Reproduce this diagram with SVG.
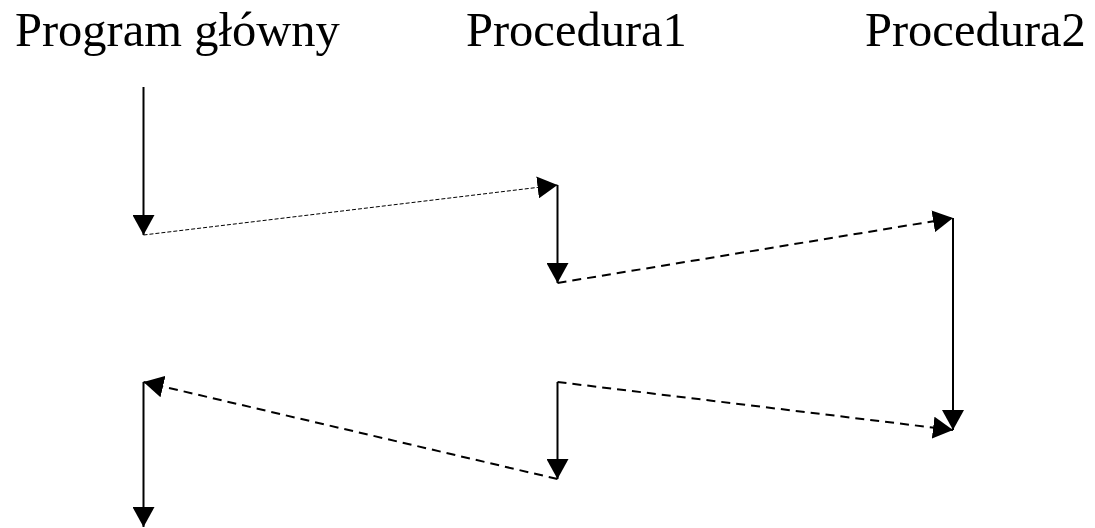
<svg xmlns="http://www.w3.org/2000/svg" width="1095" height="528" viewBox="0 0 1095 528">
  <defs>
    <marker id="arrow" viewBox="0 0 20 22" refX="20" refY="11" markerWidth="20" markerHeight="22" markerUnits="userSpaceOnUse" orient="auto">
      <path d="M0,0 L20,11 L0,22 z" fill="#000"/>
    </marker>
    <style>
      .label { font-family: "Liberation Serif", "Times New Roman", serif; font-size: 48.5px; fill: #000; }
      .solid { stroke: #000; stroke-width: 2; fill: none; }
      .dash { stroke: #000; stroke-width: 2; fill: none; stroke-dasharray: 9 6; }
      .fine { stroke: #000; stroke-width: 1; fill: none; stroke-dasharray: 4 2; }
    </style>
  </defs>
  <rect width="1095" height="528" fill="#fff"/>
  <g id="node-main">
    <text class="label" x="15" y="46">Program główny</text>
  </g>
  <g id="node-proc1">
    <text class="label" x="466" y="46">Procedura1</text>
  </g>
  <g id="node-proc2">
    <text class="label" x="865" y="46">Procedura2</text>
  </g>
  <g id="connectors">
    <line class="solid" x1="143.5" y1="87" x2="143.5" y2="235" marker-end="url(#arrow)"/>
    <line class="fine" x1="143.5" y1="235" x2="557.5" y2="185" marker-end="url(#arrow)"/>
    <line class="solid" x1="557.5" y1="185" x2="557.5" y2="283" marker-end="url(#arrow)"/>
    <line class="dash" x1="557.5" y1="283" x2="953" y2="218" marker-end="url(#arrow)"/>
    <line class="solid" x1="953" y1="218" x2="953" y2="430" marker-end="url(#arrow)"/>
    <line class="dash" x1="557.5" y1="382" x2="953" y2="430" marker-end="url(#arrow)"/>
    <line class="solid" x1="557.5" y1="382" x2="557.5" y2="479" marker-end="url(#arrow)"/>
    <line class="dash" x1="557.5" y1="479" x2="143.5" y2="382" marker-end="url(#arrow)"/>
    <line class="solid" x1="143.5" y1="382" x2="143.5" y2="527" marker-end="url(#arrow)"/>
  </g>
</svg>
